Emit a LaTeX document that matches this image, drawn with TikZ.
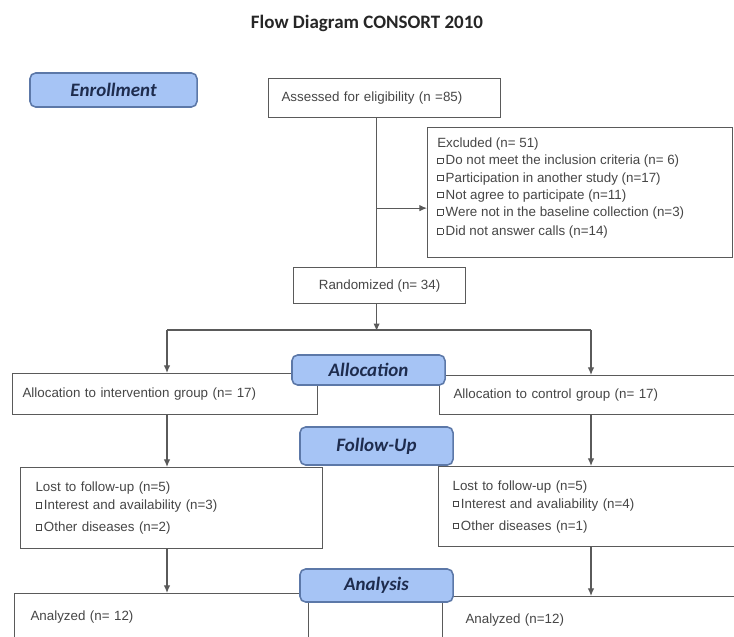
\documentclass[tikz,border=0pt]{standalone}
\usepackage{fontspec}
\setmainfont{Liberation Sans}
\newfontfamily\carlito{Carlito}
\usetikzlibrary{arrows.meta,positioning}
\definecolor{stagefill}{RGB}{166,196,245}
\definecolor{stageline}{RGB}{92,120,168}
\definecolor{navytext}{RGB}{30,44,78}
\definecolor{boxline}{RGB}{90,90,90}
\definecolor{bodytext}{RGB}{70,70,70}
\newcommand{\sqb}{{\setlength{\fboxsep}{0pt}\setlength{\fboxrule}{0.4pt}\raisebox{0.25ex}{\fbox{\rule{0pt}{3.6pt}\hspace{3.6pt}}}}\,}
\tikzset{
  >={Latex[length=1.9mm,width=1.6mm]},
  stage/.style={draw=stageline,fill=stagefill,line width=1.1pt,rounded corners=4pt,
    font=\carlito\fontsize{13.5}{16}\selectfont\bfseries\itshape,text=navytext},
  body/.style={draw=boxline,fill=white,line width=0.8pt,anchor=north west,align=left,
    font=\fontsize{9.5}{12}\selectfont,text=bodytext,inner ysep=0pt},
  list/.style={anchor=north west,align=left,inner sep=0pt,text=bodytext},
  flow/.style={draw=boxline,line width=0.8pt},
}

\begin{document}
\begin{tikzpicture}[x=0.025cm,y=-0.025cm]
  \useasboundingbox (0,0) rectangle (734,636);
  \clip (0,0) rectangle (734,636);
  \node[font=\carlito\bfseries\fontsize{13.5}{16}\selectfont,text=black!85] (title) at (367,23) {Flow Diagram CONSORT 2010};
  % boxes
  \node[body,text width=5.15cm,inner xsep=0.325cm,minimum height=0.975cm] (assess) at (268,78) {Assessed for eligibility (n =85)};
  \node[body,minimum width=7.625cm,minimum height=3.25cm] (excl) at (427,127) {};
  \node[list,font=\fontsize{9.5}{12.2}\selectfont] (excllist) at ([xshift=0.25cm,yshift=-0.27cm]excl.north west)
    {Excluded (n= 51)\\ \sqb Do not meet the inclusion criteria (n= 6)\\ \sqb Participation in another study (n=17)\\
     \sqb Not agree to participate (n=11)\\ \sqb Were not in the baseline collection (n=3)\\[1.5pt] \sqb Did not answer calls (n=14)};
  \node[body,align=center,minimum width=4.3cm,minimum height=0.9cm] (rand) at (293,267) {Randomized (n= 34)};
  \node[body,text width=7.125cm,inner xsep=0.25cm,minimum height=1.025cm] (allocL) at (12,373) {Allocation to intervention group (n= 17)};
  \node[body,text width=7.075cm,inner xsep=0.35cm,minimum height=0.975cm] (allocR) at (439,375) {Allocation to control group (n= 17)};
  \node[body,text width=6.8cm,inner xsep=0.375cm,minimum height=2.025cm,font=\fontsize{9.5}{12.8}\selectfont] (lostL) at (20,467)
    {Lost to follow-up (n=5)\\ \sqb Interest and availability (n=3)\\[2.8pt] \sqb Other diseases (n=2)};
  \node[body,text width=7.1cm,inner xsep=0.35cm,minimum height=2cm,font=\fontsize{9.5}{12.8}\selectfont] (lostR) at (438,466)
    {Lost to follow-up (n=5)\\ \sqb Interest and avaliability (n=4)\\[2.8pt] \sqb Other diseases (n=1)};
  \node[body,text width=6.55cm,inner xsep=0.4cm,minimum height=1.15cm] (anaL) at (14,593) {Analyzed (n= 12)};
  \node[body,text width=6.65cm,inner xsep=0.575cm,minimum height=1.15cm] (anaR) at (442,596) {Analyzed (n=12)};
  % connectors
  \path (assess.south) ++(-8,0) coordinate (trunk);
  \path (trunk) ++(0,90) coordinate (exjoin);
  \path (trunk |- rand.south) ++(0,27) coordinate (split);
  \coordinate (colL) at (167,330);
  \coordinate (colR) at (591,330);
  \draw[flow] (trunk) -- (trunk |- rand.north);
  \draw[flow,->] (exjoin) -- (exjoin -| excl.west);
  \draw[flow,->] (trunk |- rand.south) -- (split);
  \draw[flow] (colL) -- (colR);
  \draw[flow,->] (colL) -- (colL |- allocL.north);
  \draw[flow,->] (colR) -- (colR |- allocR.north);
  \draw[flow,->] (colL |- allocL.south) -- (colL |- lostL.north);
  \draw[flow,->] (colR |- allocR.south) -- (colR |- lostR.north);
  \draw[flow,->] (colL |- lostL.south) -- (colL |- anaL.north);
  \draw[flow,->] (colR |- lostR.south) -- (colR |- anaR.north);
  % stage labels
  \node[stage,minimum width=4.175cm,minimum height=0.85cm] (enroll) at (113.5,90) {Enrollment};
  \node[stage,minimum width=3.825cm,minimum height=0.75cm] (alloc) at (368.5,370) {Allocation};
  \node[stage,minimum width=3.825cm,minimum height=0.95cm] (follow) at (376.5,446) {Follow-Up};
  \node[stage,minimum width=3.825cm,minimum height=0.825cm] (analysis) at (376.5,585.5) {Analysis};
\end{tikzpicture}
\end{document}
